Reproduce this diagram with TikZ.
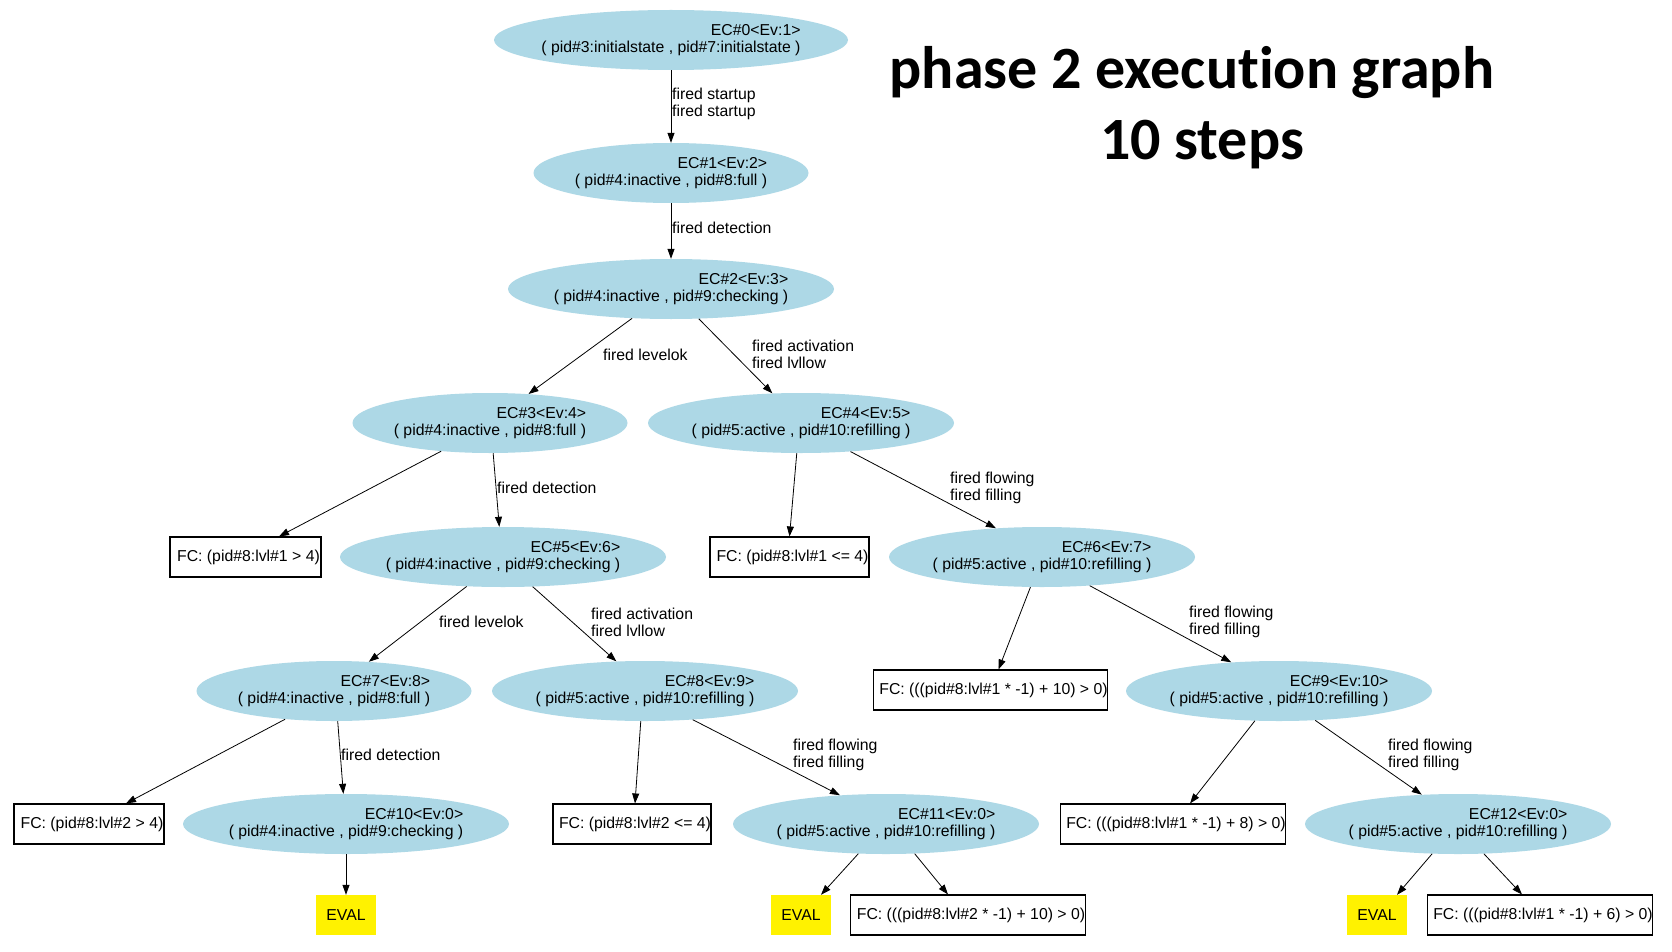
\documentclass[tikz,border=0pt]{standalone}
\usepackage{fontspec}
\setmainfont{Liberation Sans}
\newfontfamily\titlefont[Ligatures=NoCommon]{Carlito}
\usetikzlibrary{arrows.meta,shapes.geometric,calc}
\definecolor{ecblue}{RGB}{173,216,230}
\newcommand{\fcpad}{\hspace*{6pt}}
\begin{document}
\begin{tikzpicture}[x=1pt,y=-1pt,
  txt/.style={font=\fontsize{15.8}{17}\selectfont},
  ec/.style={ellipse, fill=ecblue, draw=none, minimum height=60pt, inner sep=0pt},
  ectxt/.style={txt, align=right, inner sep=0pt},
  fc/.style={txt, rectangle, draw=black, line width=1.1pt, fill=white, minimum height=40pt, inner sep=0pt},
  ev/.style={txt, rectangle, fill=yellow, draw=none, minimum width=60pt, minimum height=40pt, inner sep=0pt},
  arr/.style={draw=black, line width=0.8pt, -{Triangle[length=10pt,width=7pt]}},
  lab/.style={txt, anchor=west, align=left, inner sep=0pt},
  ttl/.style={anchor=base, font=\titlefont\bfseries\fontsize{60}{70}\selectfont, inner sep=0pt}
]
\useasboundingbox[fill=white] (0,0) rectangle (1672,952);

% title
\node[ttl] (t1) at (1192,88.5) {phase 2 execution graph};
\node[ttl] (t2) at (1202,160) {10 steps};

% ellipses
\node[ec, minimum width=354pt, label={[ectxt]center:{EC\#0<Ev:1>\\( pid\#3:initialstate , pid\#7:initialstate )}}] (EC0) at (671,40) {};
\node[ec, minimum width=275pt, label={[ectxt]center:{EC\#1<Ev:2>\\( pid\#4:inactive , pid\#8:full )}}] (EC1) at (671,173) {};
\node[ec, minimum width=326pt, label={[ectxt]center:{EC\#2<Ev:3>\\( pid\#4:inactive , pid\#9:checking )}}] (EC2) at (671,289) {};
\node[ec, minimum width=275pt, label={[ectxt]center:{EC\#3<Ev:4>\\( pid\#4:inactive , pid\#8:full )}}] (EC3) at (490,423) {};
\node[ec, minimum width=306pt, label={[ectxt]center:{EC\#4<Ev:5>\\( pid\#5:active , pid\#10:refilling )}}] (EC4) at (801,423) {};
\node[ec, minimum width=326pt, label={[ectxt]center:{EC\#5<Ev:6>\\( pid\#4:inactive , pid\#9:checking )}}] (EC5) at (503,557) {};
\node[ec, minimum width=306pt, label={[ectxt]center:{EC\#6<Ev:7>\\( pid\#5:active , pid\#10:refilling )}}] (EC6) at (1042,557) {};
\node[ec, minimum width=275pt, label={[ectxt]center:{EC\#7<Ev:8>\\( pid\#4:inactive , pid\#8:full )}}] (EC7) at (334,691) {};
\node[ec, minimum width=306pt, label={[ectxt]center:{EC\#8<Ev:9>\\( pid\#5:active , pid\#10:refilling )}}] (EC8) at (645,691) {};
\node[ec, minimum width=306pt, label={[ectxt]center:{EC\#9<Ev:10>\\( pid\#5:active , pid\#10:refilling )}}] (EC9) at (1279,691) {};
\node[ec, minimum width=326pt, label={[ectxt]center:{EC\#10<Ev:0>\\( pid\#4:inactive , pid\#9:checking )}}] (EC10) at (346,824) {};
\node[ec, minimum width=306pt, label={[ectxt]center:{EC\#11<Ev:0>\\( pid\#5:active , pid\#10:refilling )}}] (EC11) at (886,824) {};
\node[ec, minimum width=306pt, label={[ectxt]center:{EC\#12<Ev:0>\\( pid\#5:active , pid\#10:refilling )}}] (EC12) at (1458,824) {};

% condition boxes
\node[fc, minimum width=151pt] (FC1) at (245.5,557) {\fcpad FC: (pid\#8:lvl\#1 > 4)};
\node[fc, minimum width=159pt] (FC2) at (789.5,557) {\fcpad FC: (pid\#8:lvl\#1 <= 4)};
\node[fc, minimum width=233pt] (FC3) at (990.5,690) {\fcpad FC: (((pid\#8:lvl\#1 * -1) + 10) > 0)};
\node[fc, minimum width=150pt] (FC4) at (89,824) {\fcpad FC: (pid\#8:lvl\#2 > 4)};
\node[fc, minimum width=158pt] (FC5) at (632,824) {\fcpad FC: (pid\#8:lvl\#2 <= 4)};
\node[fc, minimum width=224pt] (FC6) at (1173,824) {\fcpad FC: (((pid\#8:lvl\#1 * -1) + 8) > 0)};
\node[fc, minimum width=232pt] (FC7) at (968,915) {\fcpad FC: (((pid\#8:lvl\#2 * -1) + 10) > 0)};
\node[fc, minimum width=224pt] (FC8) at (1540,915) {\fcpad FC: (((pid\#8:lvl\#1 * -1) + 6) > 0)};

% EVAL boxes
\node[ev] (EV1) at (346,915) {EVAL};
\node[ev] (EV2) at (801,915) {EVAL};
\node[ev] (EV3) at (1377,915) {EVAL};

% edges
\draw[arr] (EC0.south) -- (EC1.north);
\draw[arr] (EC1.south) -- (EC2.north);
\draw[arr] (EC2.217.6) -- (EC3.37.6);
\draw[arr] (EC2.313) -- (EC4.134);
\draw[arr] (EC3.210) -- ([xshift=33.5pt]FC1.north);
\draw[arr] (EC3.276) -- (EC5.97.6);
\draw[arr] (EC4.262.4) -- (FC2.north);
\draw[arr] (EC4.330.4) -- (EC6.148.5);
\draw[arr] (EC5.219.8) -- (EC7.40);
\draw[arr] (EC5.315) -- (EC8.134);
\draw[arr] (EC6.249.2) -- ([xshift=8pt]FC3.north);
\draw[arr] (EC6.329.4) -- (EC9.149.5);
\draw[arr] (EC7.210.6) -- ([xshift=37pt]FC4.north);
\draw[arr] (EC7.277.6) -- (EC10.95.7);
\draw[arr] (EC8.262.4) -- ([xshift=3pt]FC5.north);
\draw[arr] (EC8.329.9) -- (EC11.148.5);
\draw[arr] (EC9.231.3) -- ([xshift=17pt]FC6.north);
\draw[arr] (EC9.321) -- (EC12.141);
\draw[arr] (EC10.south) -- (EV1.north);
\draw[arr] (EC11.227) -- ([xshift=20pt]EV2.north);
\draw[arr] (EC11.314) -- ([xshift=-20pt]FC7.north);
\draw[arr] (EC12.229) -- ([xshift=20pt]EV3.north);
\draw[arr] (EC12.311) -- ([xshift=-18pt]FC8.north);

% edge labels
\node[lab] (L1) at (672,104) {fired startup\\fired startup};
\node[lab] (L2) at (672,228) {fired detection};
\node[lab] (L3) at (603,355) {fired levelok};
\node[lab] (L4) at (752,354.5) {fired activation\\fired lvllow};
\node[lab] (L5) at (497,488) {fired detection};
\node[lab] (L6) at (950,488) {fired flowing\\fired filling};
\node[lab] (L7) at (439,622) {fired levelok};
\node[lab] (L8) at (591,622) {fired activation\\fired lvllow};
\node[lab] (L9) at (1189,621.5) {fired flowing\\fired filling};
\node[lab] (L10) at (341,755) {fired detection};
\node[lab] (L11) at (793,754.5) {fired flowing\\fired filling};
\node[lab] (L12) at (1388,754.5) {fired flowing\\fired filling};
\end{tikzpicture}
\end{document}
